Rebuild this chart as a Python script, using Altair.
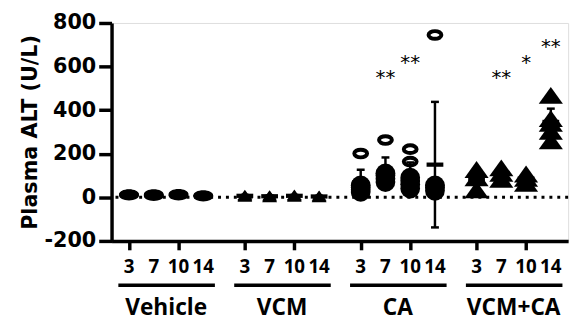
import altair as alt
import pandas as pd

groups = ["Vehicle", "VCM", "CA", "VCM+CA"]
days = ["3", "7", "10", "14"]

# individual animals (U/L), per group -> per day
vehicle_vals = [[8, 12, 15], [6, 10, 14], [8, 12, 16], [4, 7, 10]]
vcm_vals = [[3, 7, 11], [1, 5, 9], [3, 7, 12], [1, 4, 8]]
ca_filled = [[25, 35, 45, 55], [70, 85, 100, 110], [40, 60, 75, 90], [30, 45, 55]]
ca_open = [[201], [263], [164, 221], [745]]
vcmca_vals = [[35, 90, 128], [83, 110, 135], [64, 87, 107], [259, 303, 340, 361, 468]]

# mean and SD per group/day
means = [[12, 10, 12, 7], [7, 5, 7, 4], [70, 110, 90, 150], [84, 109, 86, 346]]
sds = [[3, 3, 3, 3], [4, 4, 4, 3], [57, 73, 70, 288], [47, 26, 22, 61]]

# significance marks: (group index, day index, label, y value)
star_group = [2, 2, 3, 3, 3]
star_day = [1, 2, 1, 2, 3]
star_text = ["**", "**", "**", "*", "**"]
star_y = [572, 640, 572, 638, 712]

y_ticks = [-200, 0, 200, 400, 600, 800]

GROUP_STEP = 4.68
W, H = 463, 221


def pos(g, d):
    return g * GROUP_STEP + d


def pts(vals, g):
    rows = []
    for d, vs in enumerate(vals):
        for v in vs:
            rows.append({"pos": pos(g, d), "value": v})
    return pd.DataFrame(rows)


positions = [pos(g, d) for g in range(4) for d in range(4)]
xscale = alt.Scale(domain=[-0.705, 17.74], nice=False, zero=False)
yscale = alt.Scale(domain=[-200, 800], nice=False, zero=False)

X = alt.X("pos:Q", scale=xscale, title=None,
          axis=alt.Axis(values=positions, labels=False, tickSize=9, tickWidth=3.5,
                        tickColor="black", domainWidth=3.5, domainColor="black",
                        grid=False))
Y = alt.Y("value:Q", scale=yscale, title="Plasma ALT (U/L)",
          axis=alt.Axis(values=y_ticks, tickSize=13, tickWidth=3.5, tickColor="black",
                        domainWidth=3.5, domainColor="black", grid=False,
                        labelExpr="'' + datum.value",
                        labelFont="DejaVu Sans", labelFontWeight="bold", labelFontSize=21,
                        labelColor="black", labelPadding=3,
                        titleFont="DejaVu Sans", titleFontWeight="bold", titleFontSize=21,
                        titleColor="black", titlePadding=4))

ELLIPSE = "M -1 0 A 1 0.5 0 1 1 1 0 A 1 0.5 0 1 1 -1 0 Z"
RING = "M -1 0 A 1 0.6 0 1 1 1 0 A 1 0.6 0 1 1 -1 0 Z"
TRI = "M 0 -0.7 L 1 0.7 L -1 0.7 Z"

zero = alt.Chart(pd.DataFrame({"value": [0]})).mark_rule(
    color="black", strokeWidth=3, strokeDash=[3, 5]
).encode(x=alt.value(4), x2=alt.value(W), y=alt.Y("value:Q", scale=yscale))

base_pt = dict(color="black", opacity=1)

veh = alt.Chart(pts(vehicle_vals, 0)).mark_point(
    shape=ELLIPSE, filled=True, size=400, **base_pt).encode(x=X, y=Y)
vcm = alt.Chart(pts(vcm_vals, 1)).mark_point(
    shape=TRI, filled=True, size=225, **base_pt).encode(x=X, y=Y)
caf = alt.Chart(pts(ca_filled, 2)).mark_point(
    shape="circle", filled=True, size=400, **base_pt).encode(x=X, y=Y)
cao = alt.Chart(pts(ca_open, 2)).mark_point(
    shape=RING, filled=False, size=169, strokeWidth=4, color="black", opacity=1
).encode(x=X, y=Y)
vca = alt.Chart(pts(vcmca_vals, 3)).mark_point(
    shape=TRI, filled=True, size=600, **base_pt).encode(x=X, y=Y)

err_rows = []
for g in range(4):
    for d in range(4):
        m, s = means[g][d], sds[g][d]
        err_rows.append({"pos": pos(g, d), "mean": m, "lo": m - s, "hi": m + s})
err = pd.DataFrame(err_rows)

err_rule = alt.Chart(err).mark_rule(color="black", strokeWidth=2.5).encode(
    x=alt.X("pos:Q", scale=xscale),
    y=alt.Y("lo:Q", scale=yscale), y2="hi:Q")
cap_hi = alt.Chart(err).mark_tick(orient="horizontal", color="black", size=8,
                                   thickness=2.5, opacity=1).encode(
    x=alt.X("pos:Q", scale=xscale), y=alt.Y("hi:Q", scale=yscale))
cap_lo = alt.Chart(err).mark_tick(orient="horizontal", color="black", size=8,
                                   thickness=2.5, opacity=1).encode(
    x=alt.X("pos:Q", scale=xscale), y=alt.Y("lo:Q", scale=yscale))
mean_tick = alt.Chart(err).mark_tick(orient="horizontal", color="black", size=17,
                                     thickness=4.3, opacity=1).encode(
    x=alt.X("pos:Q", scale=xscale), y=alt.Y("mean:Q", scale=yscale))

stars = alt.Chart(pd.DataFrame({
    "pos": [pos(g, d) for g, d in zip(star_group, star_day)],
    "value": star_y, "txt": star_text})).mark_text(
    font="DejaVu Sans", fontSize=20, color="black", fill="black",
    baseline="alphabetic", align="center", dy=11).encode(
    x=alt.X("pos:Q", scale=xscale), y=alt.Y("value:Q", scale=yscale), text="txt:N")

day_df = pd.DataFrame({"pos": positions, "txt": days * 4})
day_labels = alt.Chart(day_df).mark_text(
    font="Open Sans", fontWeight="bold", fontSize=19, color="black",
    baseline="alphabetic", align="center").encode(
    x=alt.X("pos:Q", scale=xscale), y=alt.value(254), text="txt:N")

line_df = pd.DataFrame({"start": [g * GROUP_STEP - 0.43 for g in range(4)],
                        "end": [g * GROUP_STEP + 3.47 for g in range(4)]})
underlines = alt.Chart(line_df).mark_rule(color="black", strokeWidth=3.5).encode(
    x=alt.X("start:Q", scale=xscale), x2="end:Q", y=alt.value(266))

grp_df = pd.DataFrame({"pos": [g * GROUP_STEP + 1.5 for g in range(4)], "txt": groups})
group_labels = alt.Chart(grp_df).mark_text(
    font="Open Sans", fontWeight="bold", fontSize=23, color="black",
    baseline="alphabetic", align="center").encode(
    x=alt.X("pos:Q", scale=xscale), y=alt.value(296), text="txt:N")

chart = alt.layer(
    zero, veh, vcm, caf, cao, vca, err_rule, cap_hi, cap_lo, mean_tick,
    stars, day_labels, underlines, group_labels
).properties(
    width=W, height=H,
    autosize=alt.AutoSizeParams(type="none"),
    padding={"left": 105, "top": 13, "right": 10, "bottom": 79},
).configure_view(stroke=None).configure(background="white")

chart.save("out.html", embed_options={"renderer": "svg", "actions": False})
